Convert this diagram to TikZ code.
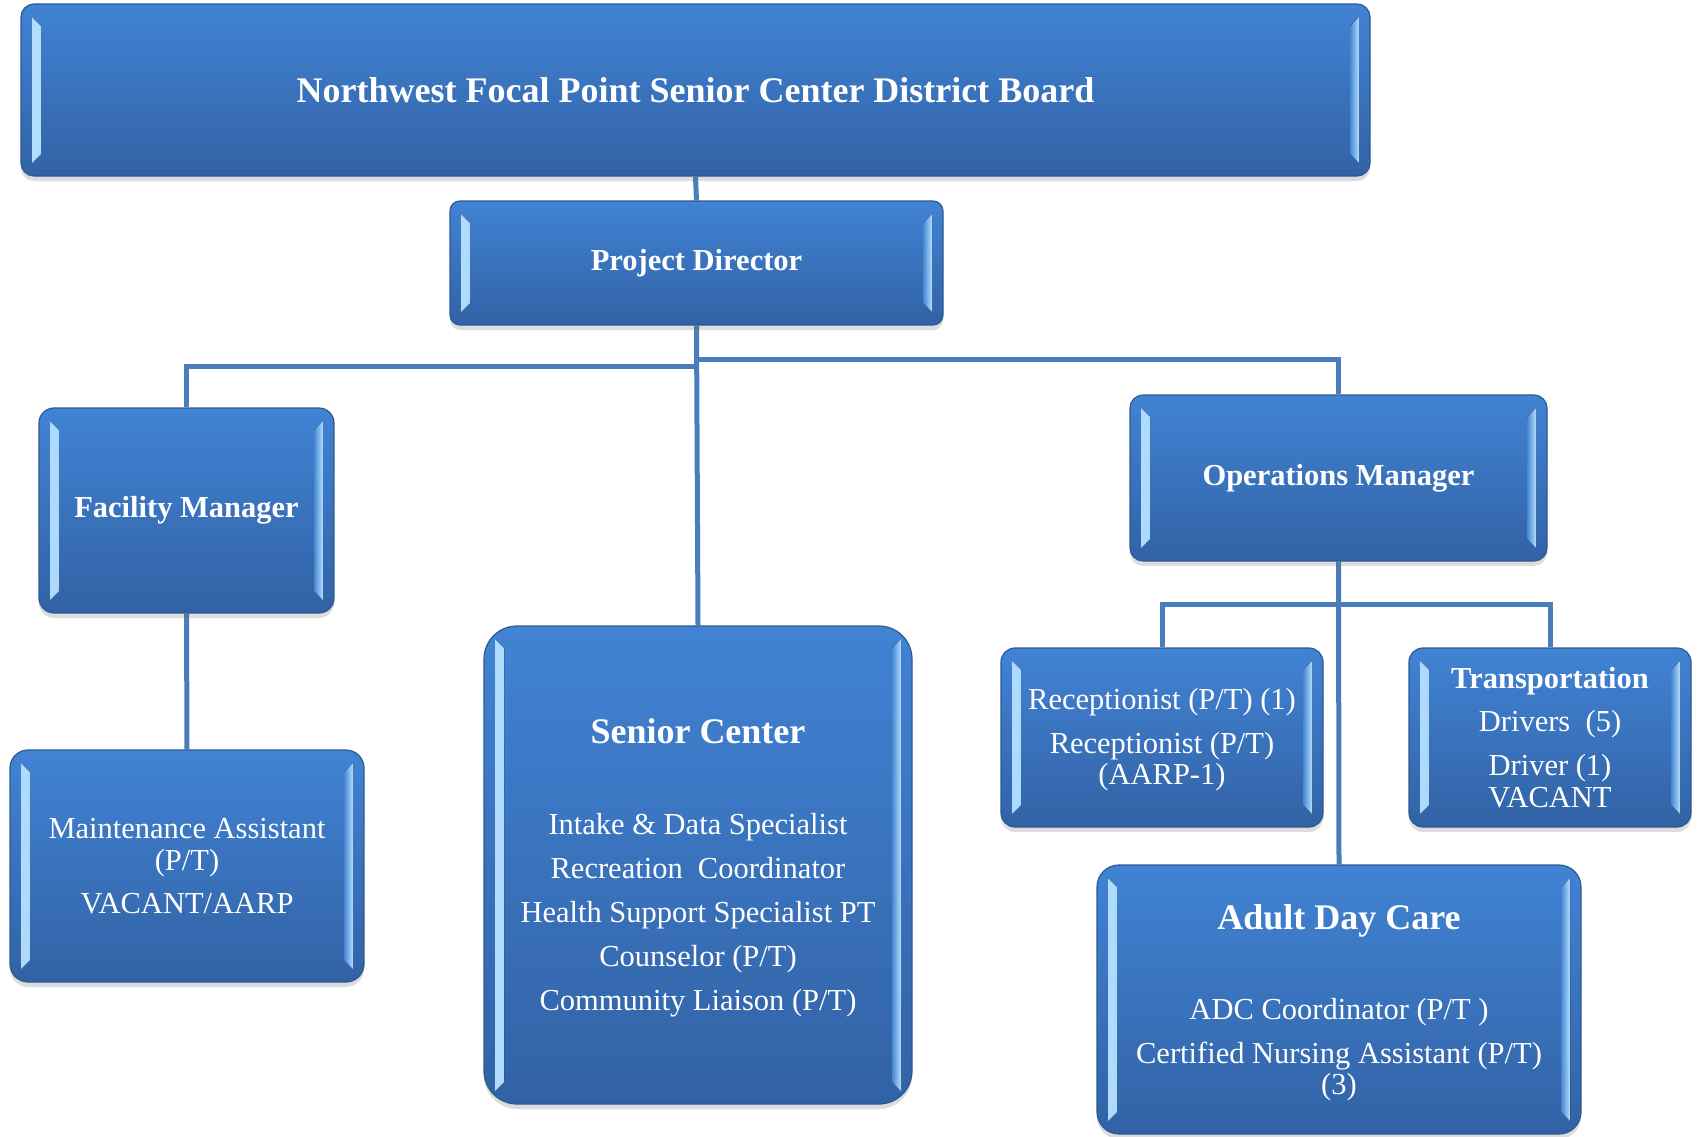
\documentclass[tikz,border=0pt]{standalone}
\usepackage{fontspec}
\setmainfont{Liberation Serif}
\usetikzlibrary{shadows,calc}
\definecolor{boxtop}{RGB}{65,131,212}
\definecolor{boxbot}{RGB}{50,98,165}
\definecolor{boxedge}{RGB}{44,90,146}
\definecolor{lineblue}{RGB}{74,126,187}
\definecolor{hlA}{RGB}{178,222,255}
\definecolor{hlB}{RGB}{70,135,210}
\pgfdeclarelayer{bg}
\pgfsetlayers{bg,main}
\tikzset{
  orgbox/.style={draw=boxedge, line width=1.2pt, rounded corners=#1,
    top color=boxtop, bottom color=boxbot, inner sep=0pt, text=white,
    align=center, font=\fontsize{30.5}{31.5}\selectfont,
    drop shadow={shadow xshift=0pt, shadow yshift=-5pt, opacity=0.22, fill=black!60},
    path picture={
      \fill[sharp corners, left color=hlA, right color=hlB]
        ($(path picture bounding box.north west)+(11,13)$) --
        ($(path picture bounding box.north west)+(20,22)$) --
        ($(path picture bounding box.south west)+(20,-22)$) --
        ($(path picture bounding box.south west)+(11,-13)$) -- cycle;
      \fill[sharp corners, left color=hlB, right color=hlA]
        ($(path picture bounding box.north east)+(-11,13)$) --
        ($(path picture bounding box.north east)+(-20,22)$) --
        ($(path picture bounding box.south east)+(-20,-22)$) --
        ($(path picture bounding box.south east)+(-11,-13)$) -- cycle;
    }},
  conn/.style={draw=lineblue, line width=5pt},
}
\newcommand{\bt}[1]{{\fontsize{36}{31.5}\selectfont\bfseries #1}}
\newcommand{\mt}[1]{{\fontsize{30.5}{31.5}\selectfont\bfseries #1}}
\begin{document}
\begin{tikzpicture}[x=1pt,y=-1pt]
\useasboundingbox (0,0) rectangle (1700,1136);

\node[orgbox=13pt, minimum width=1349pt, minimum height=172pt] (board) at (695.5,90)
  {\bt{Northwest Focal Point Senior Center District Board}};
\node[orgbox=10pt, minimum width=493pt, minimum height=124pt] (pd) at (696.5,263)
  {\mt{Project Director}};
\node[orgbox=15pt, minimum width=295pt, minimum height=205pt] (fm) at (186.5,510.5)
  {\mt{Facility Manager}};
\node[orgbox=13pt, minimum width=417pt, minimum height=166pt] (om) at (1338.5,478)
  {\mt{Operations Manager}};
\node[orgbox=18pt, minimum width=354pt, minimum height=232pt] (maint) at (187,866)
  {Maintenance Assistant\\(P/T)\\[11.5pt]VACANT/AARP};
\node[orgbox=33pt, minimum width=428pt, minimum height=478pt] (sc) at (698,865)
  {\rule{0pt}{30pt}\bt{Senior Center}\\[59.5pt]
   Intake \& Data Specialist\\[12.5pt]
   Recreation\ \ Coordinator\\[12.5pt]
   Health Support Specialist PT\\[12.5pt]
   Counselor (P/T)\\[12.5pt]
   Community Liaison (P/T)};
\node[orgbox=14pt, minimum width=322pt, minimum height=179pt] (recp) at (1162,737.5)
  {\rule{0pt}{25pt}Receptionist (P/T) (1)\\[12.5pt]Receptionist (P/T)\\(AARP-1)};
\node[orgbox=14pt, minimum width=282pt, minimum height=179pt] (trans) at (1550,737.5)
  {\mt{Transportation}\\[11.5pt]Drivers\ \ (5)\\[12.5pt]Driver (1)\\VACANT};
\node[orgbox=22pt, minimum width=484pt, minimum height=269pt] (adc) at (1339,999.5)
  {\rule{0pt}{31.5pt}\bt{Adult Day Care}\\[58.5pt]
   ADC Coordinator (P/T )\\[12.5pt]
   Certified Nursing Assistant (P/T)\\(3)};

\coordinate (lvlL) at (0,366);
\coordinate (lvlR) at (0,359);
\coordinate (lvlO) at (0,604);

\begin{pgfonlayer}{bg}
  \fill[white] (0,0) rectangle (1700,1136);
  \draw[conn] (board.south) -- (pd.north);
  \draw[conn] (pd.south) -- (sc.north);
  \draw[conn] (pd.south |- lvlL) -| (fm.north);
  \draw[conn] (pd.south |- lvlR) -| (om.north);
  \draw[conn] (fm.south) -- (maint.north);
  \draw[conn] (om.south) -- (adc.north);
  \draw[conn] (om.south |- lvlO) -| (recp.north);
  \draw[conn] (om.south |- lvlO) -| (trans.north);
\end{pgfonlayer}
\end{tikzpicture}
\end{document}
